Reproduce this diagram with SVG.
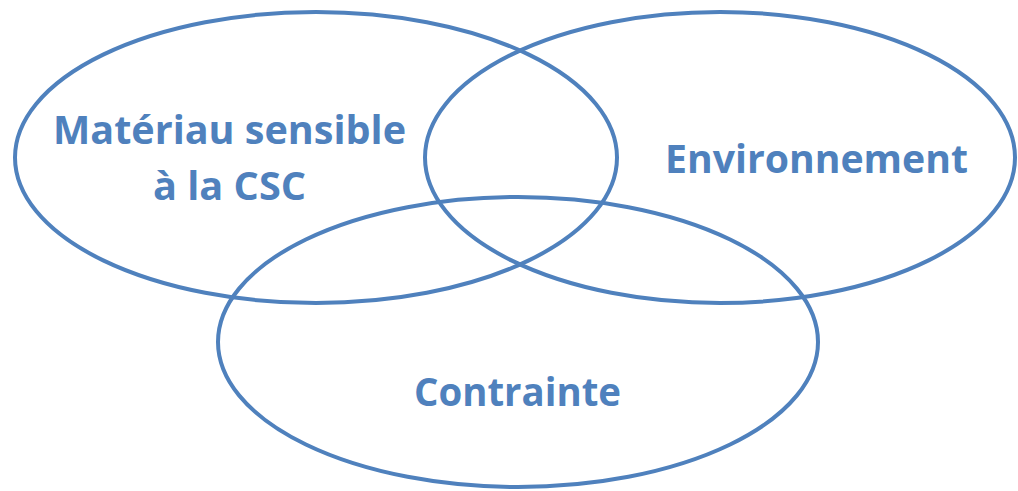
<svg xmlns="http://www.w3.org/2000/svg" width="1018" height="491" viewBox="0 0 1018 491">
<style>
.set{fill:none;stroke:#4F81BD;stroke-width:4}
.lbl{fill:#4F81BD;font-family:"Open Sans","Liberation Sans",sans-serif;font-weight:bold;font-size:40px;text-anchor:middle}
</style>
<rect width="1018" height="491" fill="#ffffff"/>
<g id="materiau">
<ellipse class="set" cx="316" cy="157.5" rx="301" ry="145.5"/>
<text class="lbl" x="229.5" y="144" textLength="353" lengthAdjust="spacingAndGlyphs">Matériau sensible</text>
<text class="lbl" x="229.5" y="200" textLength="153" lengthAdjust="spacingAndGlyphs">à la CSC</text>
</g>
<g id="environnement">
<ellipse class="set" cx="720" cy="157.5" rx="295" ry="145.5"/>
<text class="lbl" x="816.5" y="173" textLength="303" lengthAdjust="spacingAndGlyphs">Environnement</text>
</g>
<g id="contrainte">
<ellipse class="set" cx="518" cy="342" rx="300" ry="145"/>
<text class="lbl" x="517.5" y="406" textLength="207" lengthAdjust="spacingAndGlyphs">Contrainte</text>
</g>
<g id="connectors"/>
</svg>
